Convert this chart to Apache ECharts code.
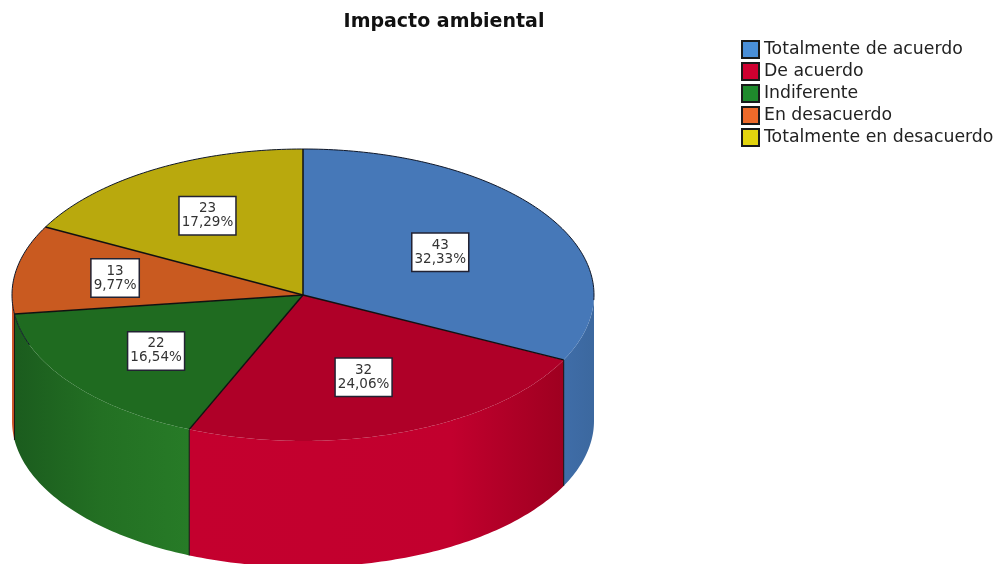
<!DOCTYPE html>
<html>
<head>
<meta charset="utf-8">
<style>
  html, body { margin: 0; padding: 0; background: #fff; }
  #chart { width: 995px; height: 564px; }
</style>
<script src="https://cdn.jsdelivr.net/npm/echarts@6/dist/echarts.min.js"></script>
</head>
<body>
<div id="chart"></div>
<script>
const categories = ['Totalmente de acuerdo', 'De acuerdo', 'Indiferente', 'En desacuerdo', 'Totalmente en desacuerdo'];
const values = [43, 32, 22, 13, 23];

const legendColors = ['#4a8fd8', '#cf0030', '#1f8a2c', '#ee6a2a', '#e2d40e'];
const topColors = ['#4678b8', '#af0028', '#1f6b20', '#c95a20', '#b9a90d'];
// left to right shading of each side wall
const sideStops = [
    [[0, '#3f6da8'], [1, '#3c689f']],
    [[0, '#c4002e'], [0.7, '#c2002e'], [1, '#9e0020']],
    [[0, '#1b5c1e'], [0.5, '#237023'], [1, '#277b27']],
    [[0, '#d0582a'], [1, '#d0582a']],
    [[0, '#a89a0c'], [1, '#a89a0c']]
];
// how far out along the slice the label box sits
const labelRadius = [0.555, 0.6, 0.634, 0.656, 0.635];

const cx = 303, cy = 295, rx = 291, ry = 146, depth = 126;
const total = values.reduce((a, b) => a + b, 0);

let startAngles = [];
let sum = 0;
values.forEach(v => {
    startAngles.push(sum / total * 360);
    sum += v;
});

function pt(deg, dy) {
    let r = deg * Math.PI / 180;
    return [cx + rx * Math.sin(r), cy - ry * Math.cos(r) + (dy || 0)];
}

function arc(a0, a1, dy) {
    let pts = [];
    for (let a = a0; a < a1; a += 1) {
        pts.push(pt(a, dy));
    }
    pts.push(pt(a1, dy));
    return pts;
}

function renderSlice(index) {
    return function (params, api) {
        let a0 = startAngles[index];
        let a1 = a0 + api.value(0) / total * 360;
        let children = [];

        // side wall, only the front half of the cake shows
        let s0 = Math.max(a0, 90), s1 = Math.min(a1, 270);
        if (s1 > s0) {
            children.push({
                type: 'polygon',
                z2: 1,
                shape: { points: arc(s0, s1, 0).concat(arc(s0, s1, depth).reverse()) },
                style: {
                    fill: {
                        type: 'linear', x: 0, y: 0, x2: 1, y2: 0,
                        colorStops: sideStops[index].map(s => ({ offset: s[0], color: s[1] }))
                    }
                }
            });
            if (a0 > 90) {
                children.push({
                    type: 'polyline',
                    z2: 2,
                    shape: { points: [pt(a0), pt(a0, depth)] },
                    style: { fill: null, stroke: '#111', lineWidth: 1 }
                });
            }
        }

        // top face
        children.push({
            type: 'polygon',
            z2: 3,
            shape: { points: [[cx, cy]].concat(arc(a0, a1, 0)) },
            style: { fill: topColors[index] }
        });

        // outline on the back of the rim and along the slice edge
        let backs = [[Math.max(a0, 0), Math.min(a1, 92)], [Math.max(a0, 250), Math.min(a1, 360)]];
        backs.forEach(b => {
            if (b[1] > b[0]) {
                children.push({
                    type: 'polyline',
                    z2: 4,
                    shape: { points: arc(b[0], b[1], 0) },
                    style: { fill: null, stroke: '#10182a', lineWidth: 1 }
                });
            }
        });
        children.push({
            type: 'polyline',
            z2: 5,
            shape: { points: [[cx, cy], pt(a0)] },
            style: { fill: null, stroke: '#111', lineWidth: 1.5 }
        });

        // label box
        let mid = (a0 + a1) / 2 * Math.PI / 180;
        let v = api.value(0);
        children.push({
            type: 'text',
            z2: 6,
            x: cx + rx * labelRadius[index] * Math.sin(mid),
            y: cy - ry * labelRadius[index] * Math.cos(mid),
            style: {
                text: v + '\n' + (v / total * 100).toFixed(2).replace('.', ',') + '%',
                font: '13.5px "DejaVu Sans"',
                lineHeight: 14,
                fill: '#333',
                align: 'center',
                verticalAlign: 'middle',
                backgroundColor: '#fff',
                borderColor: '#223',
                borderWidth: 1.5,
                padding: [5, 2, 4, 2]
            }
        });

        return { type: 'group', children: children };
    };
}

const chart = echarts.init(document.getElementById('chart'), null, { renderer: 'canvas' });

chart.setOption({
    animation: false,
    backgroundColor: '#fff',
    title: {
        text: 'Impacto ambiental',
        left: 439,
        top: 8,
        textAlign: 'center',
        textStyle: { fontFamily: 'DejaVu Sans', fontSize: 19, fontWeight: 'bold', color: '#111' }
    },
    legend: {
        left: 741,
        top: 40,
        padding: 0,
        orient: 'vertical',
        icon: 'rect',
        itemWidth: 17,
        itemHeight: 17,
        itemGap: 3,
        selectedMode: false,
        data: categories,
        textStyle: { fontFamily: 'DejaVu Sans', fontSize: 17.3, lineHeight: 17, color: '#222' }
    },
    series: categories.map((name, i) => ({
        type: 'custom',
        name: name,
        coordinateSystem: 'none',
        silent: true,
        itemStyle: { color: legendColors[i], borderColor: '#1a1a1a', borderWidth: 1 },
        data: [values[i]],
        renderItem: renderSlice(i)
    }))
});
</script>
</body>
</html>
